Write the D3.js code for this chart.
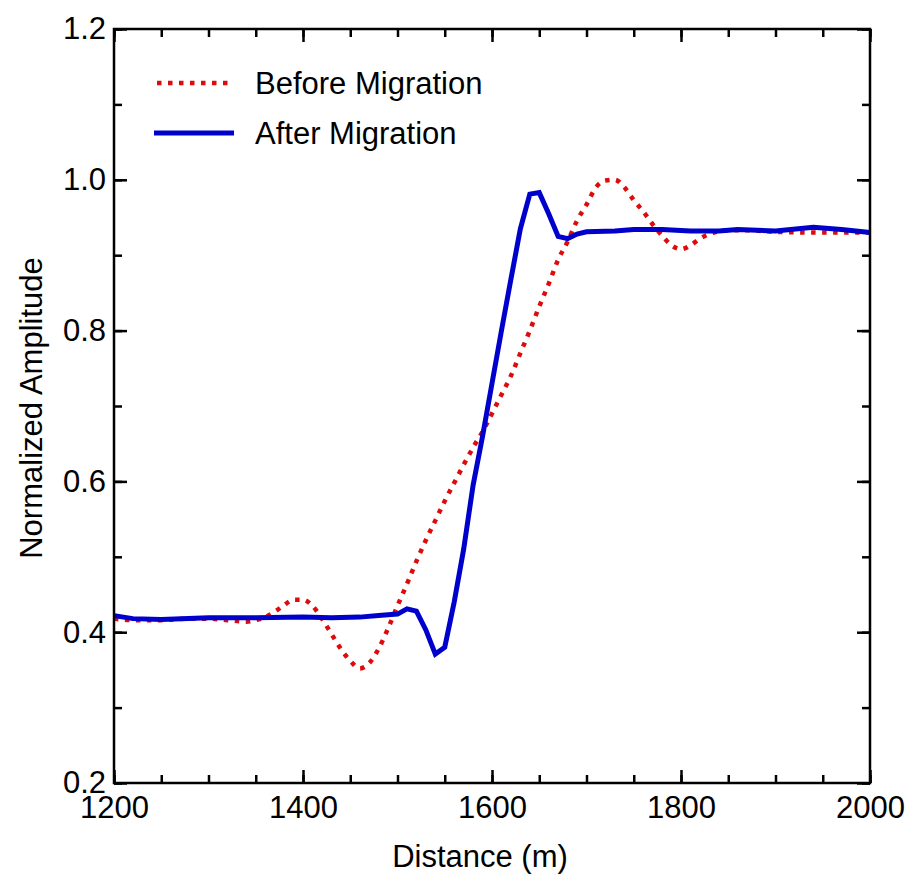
<!DOCTYPE html>
<html>
<head>
<meta charset="utf-8">
<script src="https://cdn.jsdelivr.net/npm/d3@7"></script>
<style>
  html, body { margin: 0; padding: 0; background: #fff; }
</style>
</head>
<body>
<div id="chart"></div>
<script>
// Before migration (red dotted)
const beforeDistance = [1200, 1220, 1250, 1280, 1300, 1320, 1340, 1350, 1360, 1370, 1380, 1390, 1400, 1410, 1420, 1430, 1440, 1450, 1460, 1470, 1480, 1490, 1500, 1510, 1520, 1530, 1540, 1550, 1560, 1570, 1580, 1590, 1600, 1610, 1620, 1630, 1640, 1650, 1660, 1670, 1680, 1690, 1700, 1710, 1720, 1730, 1740, 1750, 1760, 1770, 1780, 1790, 1800, 1810, 1820, 1830, 1850, 1870, 1900, 1950, 2000];
const beforeAmplitude = [0.418, 0.416, 0.416, 0.418, 0.418, 0.416, 0.414, 0.416, 0.420, 0.427, 0.436, 0.443, 0.443, 0.435, 0.418, 0.398, 0.378, 0.362, 0.352, 0.359, 0.378, 0.405, 0.435, 0.464, 0.494, 0.522, 0.548, 0.574, 0.598, 0.622, 0.645, 0.666, 0.690, 0.715, 0.740, 0.770, 0.800, 0.832, 0.862, 0.894, 0.918, 0.946, 0.967, 0.990, 0.999, 1.000, 0.990, 0.973, 0.958, 0.941, 0.926, 0.913, 0.908, 0.913, 0.922, 0.928, 0.933, 0.933, 0.931, 0.930, 0.930];

// After migration (blue solid)
const afterDistance = [1200, 1220, 1250, 1300, 1350, 1400, 1430, 1460, 1480, 1490, 1500, 1510, 1520, 1530, 1540, 1550, 1560, 1570, 1580, 1590, 1600, 1610, 1620, 1630, 1640, 1650, 1660, 1670, 1680, 1690, 1700, 1730, 1750, 1780, 1810, 1840, 1860, 1900, 1940, 1970, 2000];
const afterAmplitude = [0.422, 0.418, 0.417, 0.419, 0.419, 0.420, 0.419, 0.420, 0.422, 0.423, 0.424, 0.431, 0.428, 0.403, 0.371, 0.380, 0.440, 0.510, 0.595, 0.660, 0.730, 0.800, 0.868, 0.935, 0.981, 0.983, 0.955, 0.925, 0.922, 0.928, 0.931, 0.932, 0.934, 0.934, 0.932, 0.932, 0.934, 0.932, 0.937, 0.934, 0.930];

const xMajorTicks = [1200, 1400, 1600, 1800, 2000];
const xMinorTicks = d3.range(1200, 2001, 50);
const yMajorTicks = [0.2, 0.4, 0.6, 0.8, 1.0, 1.2];
const yMinorTicks = d3.range(2, 13).map(d => d / 10);

const legendLabels = ["Before Migration", "After Migration"];

const width = 911, height = 876;
const margin = { top: 29, right: 41, bottom: 93, left: 114 };
const font = "'Liberation Sans', Arial, Helvetica, sans-serif";
const fontSize = 31;
const red = "#dd0b0b", blue = "#0000cc";

const x = d3.scaleLinear().domain([1200, 2000]).range([margin.left, width - margin.right]);
const y = d3.scaleLinear().domain([0.2, 1.2]).range([height - margin.bottom, margin.top]);

const svg = d3.select("#chart").append("svg")
  .attr("width", width)
  .attr("height", height)
  .attr("font-family", font);

// series
const beforeData = beforeDistance.map((d, i) => ({ x: d, y: beforeAmplitude[i] }));
const afterData = afterDistance.map((d, i) => ({ x: d, y: afterAmplitude[i] }));

svg.append("path")
  .datum(beforeData)
  .attr("fill", "none")
  .attr("stroke", red)
  .attr("stroke-width", 4.5)
  .attr("stroke-dasharray", "4.5,6.5")
  .attr("d", d3.line().x(d => x(d.x)).y(d => y(d.y)).curve(d3.curveMonotoneX));

svg.append("path")
  .datum(afterData)
  .attr("fill", "none")
  .attr("stroke", blue)
  .attr("stroke-width", 5)
  .attr("stroke-linejoin", "miter")
  .attr("d", d3.line().x(d => x(d.x)).y(d => y(d.y)));

// axes: ticks inward on all four sides
const x0 = margin.left, x1 = width - margin.right;
const y0 = height - margin.bottom, y1 = margin.top;
const noDomain = (sel) => sel.select(".domain").remove();
const labelStyle = (g) => g.selectAll("text").attr("font-size", fontSize).attr("font-family", font).attr("fill", "#000");

svg.append("g").attr("transform", `translate(0,${y0})`)
  .call(d3.axisBottom(x).tickValues(xMinorTicks).tickSizeInner(-8).tickSizeOuter(0).tickFormat(""))
  .call(noDomain);
svg.append("g").attr("transform", `translate(0,${y0})`)
  .call(d3.axisBottom(x).tickValues(xMajorTicks).tickSizeInner(-13).tickSizeOuter(0).tickPadding(13).tickFormat(d3.format("d")))
  .call(noDomain)
  .call(labelStyle);
svg.append("g").attr("transform", `translate(0,${y1})`)
  .call(d3.axisTop(x).tickValues(xMinorTicks).tickSizeInner(-8).tickSizeOuter(0).tickFormat(""))
  .call(noDomain);
svg.append("g").attr("transform", `translate(0,${y1})`)
  .call(d3.axisTop(x).tickValues(xMajorTicks).tickSizeInner(-13).tickSizeOuter(0).tickFormat(""))
  .call(noDomain);

svg.append("g").attr("transform", `translate(${x0},0)`)
  .call(d3.axisLeft(y).tickValues(yMinorTicks).tickSizeInner(-8).tickSizeOuter(0).tickFormat(""))
  .call(noDomain);
svg.append("g").attr("transform", `translate(${x0},0)`)
  .call(d3.axisLeft(y).tickValues(yMajorTicks).tickSizeInner(-13).tickSizeOuter(0).tickPadding(8).tickFormat(d3.format(".1f")))
  .call(noDomain)
  .call(labelStyle);
svg.append("g").attr("transform", `translate(${x1},0)`)
  .call(d3.axisRight(y).tickValues(yMinorTicks).tickSizeInner(-8).tickSizeOuter(0).tickFormat(""))
  .call(noDomain);
svg.append("g").attr("transform", `translate(${x1},0)`)
  .call(d3.axisRight(y).tickValues(yMajorTicks).tickSizeInner(-13).tickSizeOuter(0).tickFormat(""))
  .call(noDomain);

svg.selectAll(".tick line").attr("stroke", "#000").attr("stroke-width", 2.5);

// frame
svg.append("rect")
  .attr("x", x0).attr("y", y1)
  .attr("width", x1 - x0).attr("height", y0 - y1)
  .attr("fill", "none")
  .attr("stroke", "#000")
  .attr("stroke-width", 2.5);

// axis titles
svg.append("text")
  .attr("x", 480).attr("y", 867)
  .attr("text-anchor", "middle")
  .attr("font-size", fontSize)
  .text("Distance (m)");

svg.append("text")
  .attr("transform", "translate(42,408) rotate(-90)")
  .attr("text-anchor", "middle")
  .attr("font-size", fontSize)
  .text("Normalized Amplitude");

// legend
const legend = svg.append("g");
legend.append("line")
  .attr("x1", 157).attr("x2", 228).attr("y1", 83).attr("y2", 83)
  .attr("stroke", red).attr("stroke-width", 4.5).attr("stroke-dasharray", "4.5,6.5");
legend.append("line")
  .attr("x1", 154).attr("x2", 234).attr("y1", 133).attr("y2", 133)
  .attr("stroke", blue).attr("stroke-width", 5);
legend.selectAll("text.lbl")
  .data(legendLabels)
  .join("text")
  .attr("class", "lbl")
  .attr("x", 255)
  .attr("y", (d, i) => 94 + i * 50)
  .attr("font-size", fontSize)
  .text(d => d);
</script>
</body>
</html>
